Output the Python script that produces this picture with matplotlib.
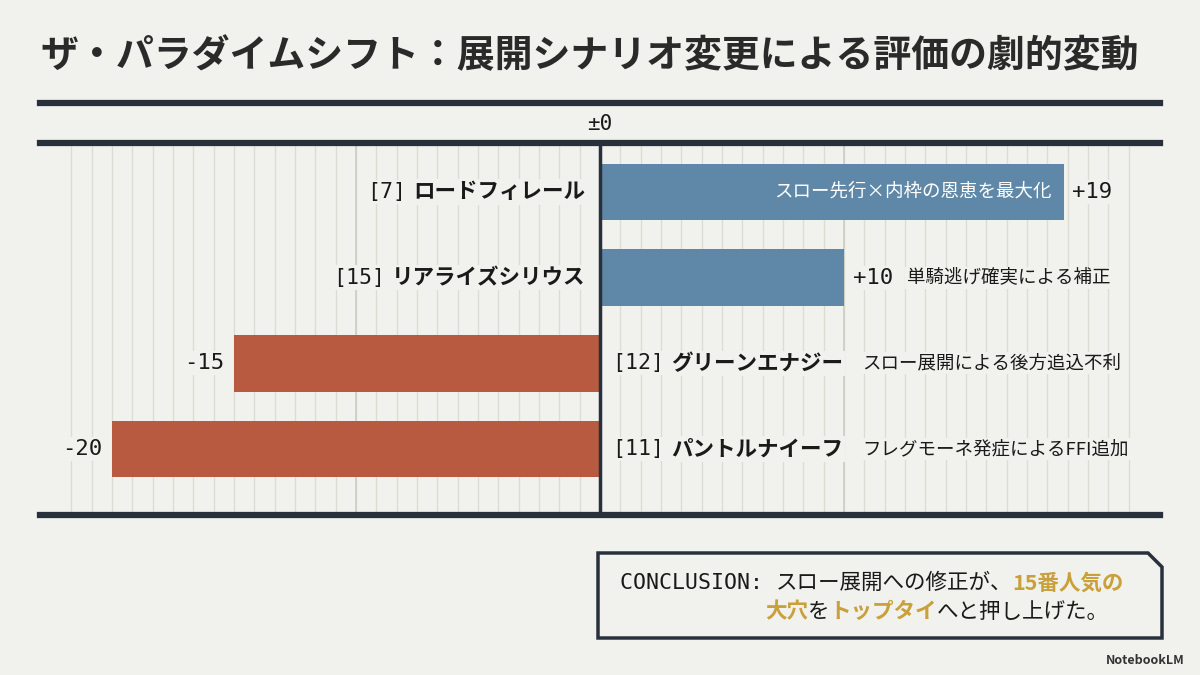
import numpy as np
import matplotlib.pyplot as plt
from matplotlib.lines import Line2D
from matplotlib.patches import Polygon

# データ
nums = ['[7]', '[15]', '[12]', '[11]']
horses = ['ロードフィレール', 'リアライズシリウス', 'グリーンエナジー', 'パントルナイーフ']
deltas = [19, 10, -15, -20]
reasons = ['スロー先行×内枠の恩恵を最大化', '単騎逃げ確実による補正',
           'スロー展開による後方追込不利', 'フレグモーネ発症によるFFI追加']
title = 'ザ・パラダイムシフト：展開シナリオ変更による評価の劇的変動'
concl_1 = [('CONCLUSION: ', 'mono', False), ('スロー展開への修正が、', 'jp', False), ('15番人気の', 'jp', True)]
concl_2 = [('大穴', 'jp', True), ('を', 'jp', False), ('トップタイ', 'jp', True), ('へと押し上げた。', 'jp', False)]

BG = '#f1f1ed'
DARK = '#27303b'
BLUE = '#5f88a8'
RED = '#b75a40'
GRID = '#dcdcd5'
GOLD = '#c9a03a'
JP = ['Noto Sans CJK JP', 'DejaVu Sans']
MONO = ['DejaVu Sans Mono', 'Noto Sans CJK JP']

W, H = 1200, 675


def fx(px):
    return px / W


def fy(py):
    return 1 - py / H


fig = plt.figure(figsize=(12, 6.75), dpi=100, facecolor=BG)
ax = fig.add_axes([fx(40), fy(515), fx(1120), 372 / H])
ax.set_facecolor(BG)
scale = 24.4
ax.set_xlim(-560 / scale, 560 / scale)
ax.set_ylim(3.77, -0.57)
for s in ax.spines.values():
    s.set_visible(False)
ax.set_xticks([])
ax.set_yticks([])

# 背景グリッド
grid_x = np.arange(-26, 27) * 10 / 12
ax.vlines(grid_x, -0.57, 3.77, color=GRID, lw=0.9, zorder=0)
ax.vlines([-10, 10], -0.57, 3.77, color='#cfcfc8', lw=1.3, zorder=0)

ypos = np.arange(len(deltas))
colors = [BLUE if d > 0 else RED for d in deltas]
ax.barh(ypos, deltas, height=0.66, color=colors, zorder=2)
ax.axvline(0, color=DARK, lw=2.5, zorder=3)

box = dict(facecolor=BG, edgecolor='none', pad=1.5)
for i, (n, h, d, r) in enumerate(zip(nums, horses, deltas, reasons)):
    if d > 0:
        name = ax.text(-0.6, i, h, ha='right', va='center', fontsize=15.5, weight='bold',
                       family=JP, color='#1a1a1a', bbox=box, zorder=4)
        ax.annotate(n, xy=(0, 0.5), xycoords=name, xytext=(-5, 0), textcoords='offset points',
                    ha='right', va='center', fontsize=15.5, family=MONO, color='#1a1a1a',
                    bbox=box, zorder=4)
        val = ax.text(d + 0.35, i, f'+{d}', ha='left', va='center', fontsize=16,
                      family=MONO, color='#1a1a1a', bbox=box, zorder=4)
        if i == 0:
            ax.text(d - 0.5, i, r, ha='right', va='center', fontsize=13.3,
                    family=JP, color='white', zorder=4)
        else:
            ax.annotate(r, xy=(1, 0.5), xycoords=val, xytext=(10, 0), textcoords='offset points',
                        ha='left', va='center', fontsize=13.3, family=JP, color='#1a1a1a',
                        bbox=box, zorder=4)
    else:
        num = ax.text(0.5, i, n, ha='left', va='center', fontsize=15.5,
                      family=MONO, color='#1a1a1a', bbox=box, zorder=4)
        name = ax.annotate(h, xy=(1, 0.5), xycoords=num, xytext=(5, 0), textcoords='offset points',
                           ha='left', va='center', fontsize=15.5, weight='bold', family=JP,
                           color='#1a1a1a', bbox=box, zorder=4)
        ax.annotate(r, xy=(1, 0.5), xycoords=name, xytext=(14, 0), textcoords='offset points',
                    ha='left', va='center', fontsize=13.3, family=JP, color='#1a1a1a',
                    bbox=box, zorder=4)
        ax.text(d - 0.4, i, f'{d}', ha='right', va='center', fontsize=16,
                family=MONO, color='#1a1a1a', bbox=box, zorder=4)

# 太い横線
for py in [103, 143, 515]:
    fig.add_artist(Line2D([fx(40), fx(1160)], [fy(py), fy(py)], lw=4.5, color=DARK))

fig.text(fx(600), fy(124), '±0', ha='center', va='center', fontsize=15, family=MONO, color='#1a1a1a')
fig.text(fx(40), fy(56), title, ha='left', va='center', fontsize=27.3, weight='bold',
         family=JP, color='#2a2a2a')

# 結論ボックス (全体を覆う透明な軸に描く)
ov = fig.add_axes([0, 0, 1, 1], zorder=5)
ov.axis('off')
ov.set_xlim(0, 1)
ov.set_ylim(0, 1)
corner = [(598, 553), (1148, 553), (1162, 567), (1162, 638), (598, 638)]
ov.add_patch(Polygon([(fx(x), fy(y)) for x, y in corner], closed=True, facecolor=BG,
                     edgecolor=DARK, lw=2.5))


def chain(parts, x0, y0):
    last = None
    for txt, fam, hl in parts:
        kw = dict(ha='left', va='center', fontsize=15.5, family=MONO if fam == 'mono' else JP,
                  color=GOLD if hl else '#1a1a1a', weight='bold' if hl else 'normal')
        if last is None:
            last = ov.text(fx(x0), fy(y0), txt, **kw)
        else:
            last = ov.annotate(txt, xy=(1, 0.5), xycoords=last, **kw)


chain(concl_1, 620, 583)
chain(concl_2, 765, 612)

ov.text(fx(1185), fy(660), 'NotebookLM', ha='right', va='center', fontsize=9,
        weight='bold', family=JP, color='#333333')

fig.savefig('out.png', dpi=100, facecolor=BG)
